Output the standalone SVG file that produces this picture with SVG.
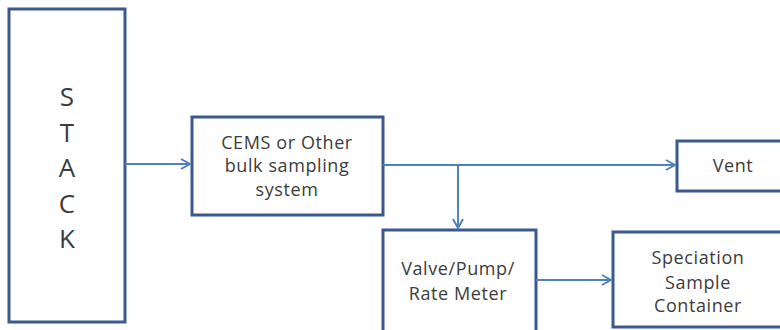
<svg xmlns="http://www.w3.org/2000/svg" width="780" height="330" viewBox="0 0 780 330">
<defs>
<marker id="arr" markerWidth="12" markerHeight="12" refX="10" refY="6" orient="auto" markerUnits="userSpaceOnUse">
<path d="M1,1 L10,6 L1,11" fill="none" stroke="#4F81BD" stroke-width="2"/>
</marker>
</defs>
<style>
.box{fill:#ffffff;stroke:#3A5A8E;stroke-width:3}
.lbl{font-family:"Open Sans","Noto Sans","DejaVu Sans",sans-serif;font-size:18px;letter-spacing:0.6px;fill:#3C3C3C;text-anchor:middle}
.stk{font-family:"Open Sans","Noto Sans","DejaVu Sans",sans-serif;font-size:26px;fill:#3C3C3C;text-anchor:middle}
.con{fill:none;stroke:#4F81BD;stroke-width:2}
</style>
<rect width="780" height="330" fill="#ffffff"/>
<g id="stack">
<rect class="box" x="9" y="9" width="116" height="313"/>
<text class="stk" x="67" y="106">S</text>
<text class="stk" x="67" y="141.5">T</text>
<text class="stk" x="67" y="177">A</text>
<text class="stk" x="67" y="212.5">C</text>
<text class="stk" x="67" y="248">K</text>
</g>
<g id="cems">
<rect class="box" x="192" y="117" width="191" height="98"/>
<text class="lbl" x="287" y="149">CEMS or Other</text>
<text class="lbl" x="287" y="172">bulk sampling</text>
<text class="lbl" x="287" y="196">system</text>
</g>
<g id="vent">
<rect class="box" x="677" y="141" width="110" height="50"/>
<text class="lbl" x="733" y="172">Vent</text>
</g>
<g id="valve">
<rect class="box" x="383" y="230" width="153" height="110"/>
<text class="lbl" x="458" y="275">Valve/Pump/</text>
<text class="lbl" x="458" y="300">Rate Meter</text>
</g>
<g id="speciation">
<rect class="box" x="613" y="232" width="180" height="95"/>
<text class="lbl" x="698" y="264">Speciation</text>
<text class="lbl" x="698" y="289">Sample</text>
<text class="lbl" x="698" y="312">Container</text>
</g>
<g id="connectors">
<line class="con" x1="125" y1="164" x2="190" y2="164" marker-end="url(#arr)"/>
<line class="con" x1="383" y1="165" x2="675" y2="165" marker-end="url(#arr)"/>
<line class="con" x1="458" y1="165" x2="458" y2="228" marker-end="url(#arr)"/>
<line class="con" x1="536" y1="280" x2="611" y2="280" marker-end="url(#arr)"/>
</g>
</svg>
